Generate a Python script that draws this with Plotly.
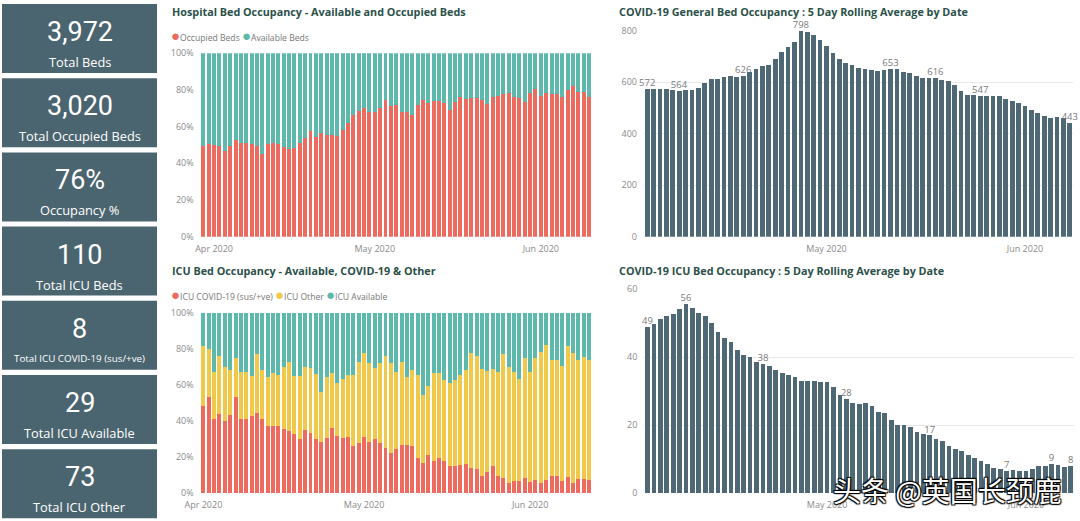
import plotly.graph_objects as go
import pandas as pd

# ---------------- data ----------------
kpi_values = ["3,972", "3,020", "76%", "110", "8", "29", "73"]
kpi_labels = ["Total Beds", "Total Occupied Beds", "Occupancy %", "Total ICU Beds",
              "Total ICU COVID-19 (sus/+ve)", "Total ICU Available", "Total ICU Other"]

hosp_dates = pd.date_range("2020-03-30", periods=73, freq="D")
occupied_pct = [49.6, 50.5, 50.2, 49.5, 46.7, 49.6, 52.7, 51.3, 50.9, 50.5,
                49.5, 44.9, 50.5, 51.3, 50.4, 49.1, 47.8, 48.4, 51.3, 54.0,
                57.6, 54.5, 56.4, 55.5, 55.5, 54.9, 58.2, 62.2, 66.4, 68.5,
                70.0, 68.2, 68.2, 70.4, 74.5, 71.3, 71.6, 68.0, 68.0, 66.4,
                71.8, 74.5, 73.1, 74.0, 74.0, 73.1, 69.1, 73.6, 76.0, 75.1,
                75.8, 75.8, 74.5, 72.4, 76.0, 76.7, 77.6, 78.4, 76.4, 75.5,
                73.6, 78.2, 80.4, 76.7, 78.5, 77.8, 77.6, 76.4, 80.0, 82.2,
                79.1, 79.1, 76.0]
available_pct = [round(100 - v, 1) for v in occupied_pct]

icu_dates = pd.date_range("2020-04-01", periods=73, freq="D")
icu_covid_pct = [48.3, 53.1, 41.1, 43.9, 40.0, 43.3, 53.1, 41.1, 41.1, 42.8,
                 44.3, 41.0, 37.5, 37.3, 37.5, 35.6, 34.7, 32.8, 29.9, 35.1,
                 33.2, 30.3, 28.6, 30.8, 36.0, 32.0, 30.4, 31.0, 26.0, 28.0,
                 31.0, 28.6, 30.0, 28.0, 25.0, 22.5, 24.7, 26.8, 26.8, 26.2,
                 19.4, 16.6, 21.2, 17.9, 19.7, 17.9, 15.3, 15.3, 15.5, 16.0,
                 13.8, 13.3, 9.6, 12.0, 15.1, 9.6, 8.7, 5.5, 7.0, 7.0,
                 8.3, 6.5, 7.4, 5.9, 7.4, 9.6, 9.6, 6.8, 8.9, 5.9,
                 8.1, 8.0, 7.3]
icu_other_pct = [33.5, 26.7, 25.8, 32.0, 30.0, 25.0, 21.7, 26.2, 26.2, 22.0,
                 33.0, 27.0, 27.1, 29.4, 28.0, 34.5, 38.2, 32.0, 35.0, 34.7,
                 36.0, 35.5, 27.3, 33.8, 30.4, 28.9, 32.9, 34.5, 39.5, 44.9,
                 46.9, 43.7, 39.2, 44.0, 51.0, 49.8, 42.3, 46.1, 37.8, 42.1,
                 46.1, 37.8, 38.2, 48.5, 46.7, 45.1, 45.7, 47.7, 50.0, 52.0,
                 63.7, 62.7, 59.4, 55.7, 53.9, 57.7, 68.3, 64.5, 60.3, 56.3,
                 66.4, 60.8, 67.6, 72.5, 74.6, 64.2, 64.2, 63.5, 72.4, 71.6,
                 65.9, 67.5, 66.3]
icu_avail_pct = [18.2, 20.2, 33.1, 24.1, 30.0, 31.7, 25.2, 32.7, 32.7, 35.2,
                 22.7, 32.0, 35.4, 33.3, 34.5, 29.9, 27.1, 35.2, 35.1, 30.2,
                 30.8, 34.2, 44.1, 35.4, 33.6, 39.1, 36.7, 34.5, 34.5, 27.1,
                 22.1, 27.7, 30.8, 28.0, 24.0, 27.7, 33.0, 27.1, 35.4, 31.7,
                 34.5, 45.6, 40.6, 33.6, 33.6, 37.0, 39.0, 37.0, 34.5, 32.0,
                 22.5, 24.0, 31.0, 32.3, 31.0, 32.7, 23.0, 30.0, 32.7, 36.7,
                 25.3, 32.7, 25.0, 21.6, 18.0, 26.2, 26.2, 29.7, 18.7, 22.5,
                 26.0, 24.5, 26.4]

roll_dates = pd.date_range("2020-04-03", periods=67, freq="D")
gen_roll = [572, 572, 573, 573, 569, 564, 570, 571, 578, 597,
            614, 614, 621, 624, 621, 626, 638, 653, 663, 668,
            692, 717, 738, 758, 798, 796, 783, 764, 742, 713,
            690, 675, 665, 657, 651, 647, 645, 649, 653, 651,
            641, 634, 624, 616, 616, 616, 610, 603, 588, 566,
            551, 552, 547, 545, 546, 545, 533, 526, 519, 506,
            494, 481, 468, 461, 463, 460, 443]
gen_label_idx = [0, 5, 15, 24, 38, 45, 52, 66]

icu_roll = [48.9, 49.7, 51.3, 52.2, 52.7, 54.3, 55.6, 54.5, 53.1, 52.2,
            50.0, 47.5, 45.7, 44.5, 42.2, 40.7, 40.0, 38.5, 37.9, 37.3,
            36.2, 35.4, 34.9, 34.1, 33.1, 33.0, 32.9, 32.6, 32.7, 31.4,
            28.9, 27.7, 26.7, 26.4, 26.6, 25.6, 24.0, 23.5, 21.5, 20.1,
            20.1, 19.4, 18.0, 17.5, 17.0, 15.9, 15.3, 14.0, 13.0, 12.3,
            11.3, 10.4, 9.6, 8.6, 7.4, 7.1, 6.7, 6.9, 6.6, 6.6,
            7.1, 7.9, 7.9, 8.6, 8.3, 7.7, 7.9]
icu_label_idx = [0, 6, 18, 31, 44, 56, 63, 66]

titles = ["Hospital Bed Occupancy - Available and Occupied Beds",
          "ICU Bed Occupancy - Available, COVID-19 & Other",
          "COVID-19 General Bed Occupancy : 5 Day Rolling Average by Date",
          "COVID-19 ICU Bed Occupancy : 5 Day Rolling Average by Date"]

# ---------------- style ----------------
W, H = 1080, 521
RED, TEAL, YEL, SLATE = "#EC6A5E", "#5DB9AB", "#F0C84A", "#4E6975"
CARD = "#4B6570"
TITLE_C = "#2B5049"
TICK_C = "#8A8A8A"
FONT = "Open Sans"


def px(x):
    return x / W


def py(y):
    return 1 - y / H


def labels_for(vals, idx):
    return [str(int(round(v))) if i in idx else "" for i, v in enumerate(vals)]


fig = go.Figure()

# top middle: 100% stacked
fig.add_bar(x=hosp_dates, y=occupied_pct, marker_color=RED, xaxis="x", yaxis="y",
            showlegend=False, marker_line_width=0)
fig.add_bar(x=hosp_dates, y=available_pct, marker_color=TEAL, xaxis="x", yaxis="y",
            showlegend=False, marker_line_width=0)
# bottom middle: 100% stacked
fig.add_bar(x=icu_dates, y=icu_covid_pct, marker_color=RED, xaxis="x2", yaxis="y2",
            showlegend=False, marker_line_width=0)
fig.add_bar(x=icu_dates, y=icu_other_pct, marker_color=YEL, xaxis="x2", yaxis="y2",
            showlegend=False, marker_line_width=0)
fig.add_bar(x=icu_dates, y=icu_avail_pct, marker_color=TEAL, xaxis="x2", yaxis="y2",
            showlegend=False, marker_line_width=0)
# top right
lab_font = dict(family=FONT, size=9.5, color="#7A7A7A")
fig.add_bar(x=roll_dates, y=gen_roll, marker_color=SLATE, xaxis="x3", yaxis="y3",
            showlegend=False, marker_line_width=0,
            text=labels_for(gen_roll, gen_label_idx), textposition="outside",
            constraintext="none", textfont=lab_font, cliponaxis=False)
# bottom right
fig.add_bar(x=roll_dates, y=icu_roll, marker_color=SLATE, xaxis="x4", yaxis="y4",
            showlegend=False, marker_line_width=0,
            text=labels_for(icu_roll, icu_label_idx), textposition="outside",
            constraintext="none", textfont=lab_font, cliponaxis=False)

half = pd.Timedelta(hours=12)
tickf = dict(family=FONT, size=9, color=TICK_C)


def xax(dom, dates, anchor):
    return dict(domain=dom, anchor=anchor, type="date", automargin=False,
                range=[dates[0] - half, dates[-1] + half],
                dtick="M1", tick0="2020-04-01", tickformat="%b %Y",
                showgrid=False, zeroline=False, showline=False, ticks="",
                ticklabelstandoff=5,
                tickfont=tickf, fixedrange=True)


def yax(dom, rng, dtick, anchor, suffix="", grid=False):
    return dict(domain=dom, anchor=anchor, range=rng, dtick=dtick, ticksuffix=suffix,
                automargin=False,
                showgrid=grid, gridcolor="#E8E8E8", gridwidth=1,
                zeroline=False, showline=False, ticks="",
                tickfont=tickf, ticklabelstandoff=6, fixedrange=True)


mid_x = [px(200.7), px(591.7)]

fig.update_layout(
    template="none",
    width=W, height=H,
    margin=dict(l=0, r=0, t=0, b=0, pad=0),
    paper_bgcolor="white", plot_bgcolor="white",
    barmode="stack",
    bargap=0.26,
    font=dict(family=FONT),
    xaxis=xax(mid_x, hosp_dates, "y"),
    yaxis=yax([py(236.7), py(53.3)], [0, 100], 20, "x", "%"),
    xaxis2=xax(mid_x, icu_dates, "y2"),
    yaxis2=yax([py(493.3), py(312.7)], [0, 100], 20, "x2", "%"),
    xaxis3=xax([px(644), px(1073)], roll_dates, "y3"),
    yaxis3=yax([py(236.7), py(30.7)], [0, 800], 200, "x3", grid=True),
    xaxis4=xax([px(644.3), px(1074)], roll_dates, "y4"),
    yaxis4=yax([py(493.3), py(289.3)], [0, 60], 20, "x4", grid=True),
)

shapes = []
annots = []

# KPI cards
for i, (v, lab) in enumerate(zip(kpi_values, kpi_labels)):
    top = 4 + 74.2 * i
    shapes.append(dict(type="rect", xref="paper", yref="paper",
                       x0=px(2), x1=px(157), y0=py(top + 69), y1=py(top),
                       fillcolor=CARD, line=dict(width=0), layer="below"))
    annots.append(dict(text=v, x=px(79.5), y=py(top + 28), xref="paper", yref="paper",
                       showarrow=False, xanchor="center", yanchor="middle",
                       font=dict(family="Roboto", size=27, color="white")))
    annots.append(dict(text=lab, x=px(79.5), y=py(top + 58), xref="paper", yref="paper",
                       showarrow=False, xanchor="center", yanchor="middle",
                       font=dict(family=FONT, size=9.8 if len(lab) > 22 else 12.8,
                                 color="white")))

# chart titles
title_pos = [(170, 11), (170, 270), (617, 12), (617, 270)]
for t, (x, y) in zip(titles, title_pos):
    annots.append(dict(text="<b>" + t + "</b>", x=px(x), y=py(y), xref="paper",
                       yref="paper", showarrow=False, xanchor="left", yanchor="middle",
                       font=dict(family=FONT, size=10.8, color=TITLE_C)))


# legends
def dot(c):
    return '<span style="color:%s;font-size:15px">\u25CF</span>' % c


leg1 = dot(RED) + "Occupied Beds " + dot(TEAL) + "Available Beds"
leg2 = dot(RED) + "ICU COVID-19 (sus/+ve) " + dot(YEL) + "ICU Other " + dot(TEAL) + "ICU Available"
for txt, y in [(leg1, 35), (leg2, 294)]:
    annots.append(dict(text=txt, x=px(169), y=py(y), xref="paper", yref="paper",
                       showarrow=False, xanchor="left", yanchor="middle",
                       font=dict(family=FONT, size=8.6, color="#777777")))

# watermark
annots.append(dict(text="头条 @英国长颈鹿", x=px(1064), y=py(490), xref="paper", yref="paper",
                   showarrow=False, xanchor="right", yanchor="middle",
                   font=dict(family="Noto Sans CJK SC", size=28, color="white",
                             shadow="1px 1px 1px #000, -1px -1px 1px #000, 1px -1px 1px #000, -1px 1px 1px #000")))

fig.update_layout(shapes=shapes, annotations=annots)

fig.write_html("out.html", config={"displayModeBar": False},
               post_script="document.body.style.margin='0';document.body.style.overflow='hidden';")
